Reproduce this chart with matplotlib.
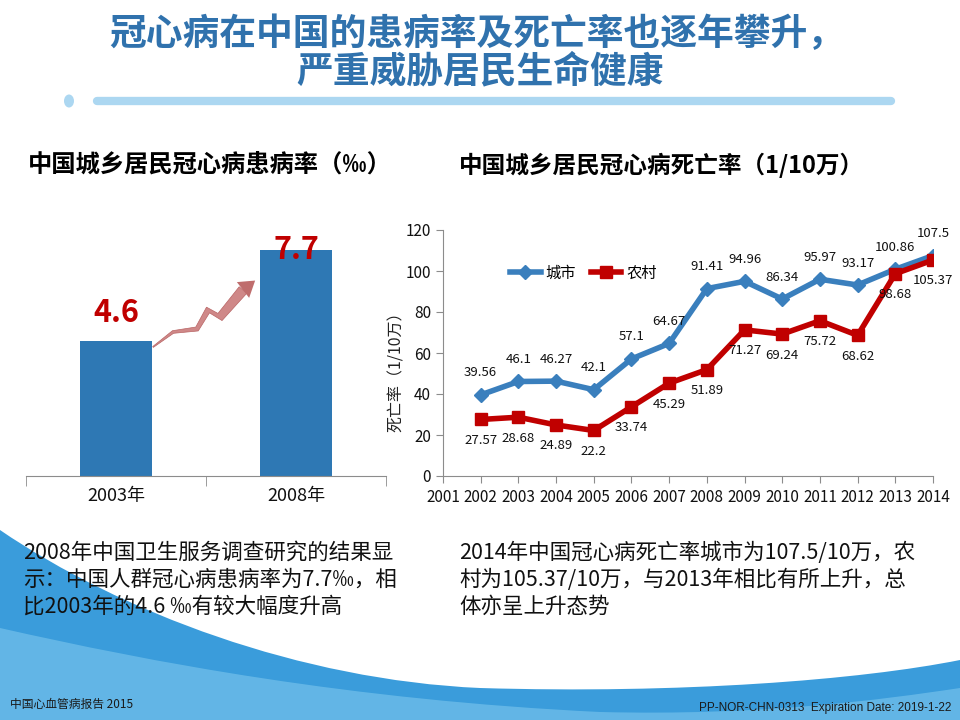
import numpy as np
import matplotlib
matplotlib.use("Agg")
import matplotlib.pyplot as plt
from matplotlib.path import Path
from matplotlib.patches import PathPatch, Polygon, Ellipse
from matplotlib.lines import Line2D
from matplotlib.transforms import Affine2D

plt.rcParams['font.family'] = ['Noto Sans CJK SC', 'DejaVu Sans']

# ---- data ----
prev_years = ['2003年', '2008年']
prev_rate = [4.6, 7.7]

years = [2002, 2003, 2004, 2005, 2006, 2007, 2008, 2009, 2010, 2011, 2012, 2013, 2014]
tick_years = [2001] + years
city = [39.56, 46.1, 46.27, 42.1, 57.1, 64.67, 91.41, 94.96, 86.34, 95.97, 93.17, 100.86, 107.5]
rural = [27.57, 28.68, 24.89, 22.2, 33.74, 45.29, 51.89, 71.27, 69.24, 75.72, 68.62, 98.68, 105.37]

W, H = 960, 720
BLUE = '#2e78b4'
RED = '#c00000'

fig = plt.figure(figsize=(9.6, 7.2), dpi=100)
# pixel coords (origin top-left) -> figure
px = Affine2D().scale(1 / W, -1 / H).translate(0, 1) + fig.transFigure


def box(l, t, r, b):
    return [l / W, 1 - b / H, (r - l) / W, (b - t) / H]


# ---- background wave ----
wave = Path([(0, 530), (120, 612), (300, 680), (480, 688),
             (680, 694), (860, 680), (960, 660),
             (960, 720), (0, 720), (0, 530)],
            [Path.MOVETO, Path.CURVE4, Path.CURVE4, Path.CURVE4,
             Path.CURVE4, Path.CURVE4, Path.CURVE4,
             Path.LINETO, Path.LINETO, Path.CLOSEPOLY])
fig.add_artist(PathPatch(wave, transform=px, facecolor='#3a9cdb', edgecolor='none', zorder=-5))
band = Path([(0, 628), (150, 662), (350, 700), (600, 712),
             (760, 716), (880, 700), (960, 688),
             (960, 720), (0, 720), (0, 628)],
            [Path.MOVETO, Path.CURVE4, Path.CURVE4, Path.CURVE4,
             Path.CURVE4, Path.CURVE4, Path.CURVE4,
             Path.LINETO, Path.LINETO, Path.CLOSEPOLY])
fig.add_artist(PathPatch(band, transform=px, facecolor='#78c4ec', edgecolor='none', alpha=0.65, zorder=-4))

# ---- main title ----
fig.text(477 / W, 1 - 35 / H, '冠心病在中国的患病率及死亡率也逐年攀升，', ha='center', va='center',
         fontsize=26.5, fontweight='bold', color='#3072ad')
fig.text(480 / W, 1 - 72 / H, '严重威胁居民生命健康', ha='center', va='center',
         fontsize=26.5, fontweight='bold', color='#3072ad')
fig.add_artist(Line2D([97, 891], [101, 101], transform=px, color='#acd7f1', lw=6,
                      solid_capstyle='round'))
fig.add_artist(Ellipse((69, 101), 10, 13, transform=px, facecolor='#acd7f1', edgecolor='none'))

# ---- left: prevalence bars ----
fig.text(210 / W, 1 - 165 / H, '中国城乡居民冠心病患病率（‰）', ha='center', va='center',
         fontsize=17.5, fontweight='bold', color='black')
ax1 = fig.add_axes(box(26, 200, 386, 476))
ax1.set_facecolor('none')
x1 = np.arange(len(prev_rate))
ax1.bar(x1, prev_rate, width=0.4, color=BLUE)
ax1.set_xlim(-0.5, 1.5)
ax1.set_ylim(0, 9.4)
for s in ['top', 'right', 'left']:
    ax1.spines[s].set_visible(False)
ax1.spines['bottom'].set_color('#8c8c8c')
ax1.set_yticks([])
ax1.set_xticks(x1)
ax1.set_xticklabels(prev_years, fontsize=13, color='#111111')
ax1.tick_params(axis='x', length=0, pad=8)
ax1.set_xticks([-0.5, 0.5, 1.5], minor=True)
ax1.tick_params(axis='x', which='minor', length=7, color='#8c8c8c', direction='out')
offs = [(0, 28), (0, 0)]
for xi, v, o in zip(x1, prev_rate, offs):
    ax1.annotate(f'{v}', (xi, v), xytext=o, textcoords='offset pixels', ha='center',
                 va='center', fontsize=22, fontweight='bold', color=RED)

# zigzag arrow between the bars
cx = np.array([153, 173, 197, 208, 220, 243])
cy = np.array([347, 332, 329, 310, 317, 290])
wd = np.linspace(0.5, 5, len(cx))
dx, dy = np.gradient(cx.astype(float)), np.gradient(cy.astype(float))
nn = np.hypot(dx, dy)
nx, ny = -dy / nn, dx / nn
upper = np.column_stack([cx + nx * wd, cy + ny * wd])
lower = np.column_stack([cx - nx * wd, cy - ny * wd])
fig.add_artist(Polygon(np.vstack([upper, lower[::-1]]), closed=True, transform=px,
                       facecolor='#cf8888', edgecolor='#b86464', lw=0.5))
ux, uy = (252 - 243) / np.hypot(9, 7), (283 - 290) / np.hypot(9, 7)
head = [(243 + (-uy) * 10, 290 + ux * 10), (252 + ux * 4, 283 + uy * 4), (243 - (-uy) * 10, 290 - ux * 10)]
fig.add_artist(Polygon(head, closed=True, transform=px, facecolor='#bf6d6d', edgecolor='none'))

# ---- right: mortality lines ----
fig.text(662 / W, 1 - 165 / H, '中国城乡居民冠心病死亡率（1/10万）', ha='center', va='center',
         fontsize=17, fontweight='bold', color='black')
ax2 = fig.add_axes(box(443, 230, 933, 476))
ax2.set_facecolor('none')
ax2.plot(years, city, color='#3a7fbd', lw=4, marker='D', ms=7, label='城市', zorder=3)
ax2.plot(years, rural, color=RED, lw=4, marker='s', ms=9, label='农村', zorder=3)
ax2.set_xlim(2001, 2014)
ax2.set_ylim(0, 120)
ax2.set_xticks(tick_years)
ax2.set_xticklabels([str(y) for y in tick_years])
ax2.set_yticks(range(0, 121, 20))
for s in ['top', 'right']:
    ax2.spines[s].set_visible(False)
for s in ['left', 'bottom']:
    ax2.spines[s].set_color('#8c8c8c')
ax2.tick_params(axis='both', labelsize=11, colors='#8c8c8c', labelcolor='#111111', length=5)
ax2.tick_params(axis='x', pad=4)
ax2.set_ylabel('死亡率（1/10万）', fontsize=11.5, color='#222222')
ax2.yaxis.set_label_coords(-0.078, 0.44)
for xv, yc, yr in zip(years, city, rural):
    ax2.annotate(f'{yc}', (xv, yc), xytext=(0, 22), textcoords='offset pixels',
                 ha='center', va='center', fontsize=9.5, color='#111111', zorder=5)
    ax2.annotate(f'{yr}', (xv, yr), xytext=(0, -21), textcoords='offset pixels',
                 ha='center', va='center', fontsize=9.5, color='#111111', zorder=5)
ax2.legend(loc='center left', bbox_to_anchor=((510 - 443) / 490, (476 - 273) / 246), ncol=2,
           frameon=False, fontsize=11, handlelength=2.0, handletextpad=0.3,
           columnspacing=1.0, borderpad=0, borderaxespad=0)

# ---- notes ----
left_note = ['2008年中国卫生服务调查研究的结果显',
             '示：中国人群冠心病患病率为7.7‰，相',
             '比2003年的4.6 ‰有较大幅度升高']
right_note = ['2014年中国冠心病死亡率城市为107.5/10万，农',
              '村为105.37/10万，与2013年相比有所上升，总',
              '体亦呈上升态势']
for i, (a, b) in enumerate(zip(left_note, right_note)):
    yy = 1 - (553 + 27 * i) / H
    fig.text(23 / W, yy, a, ha='left', va='center', fontsize=15.5, color='#111111')
    fig.text(459 / W, yy, b, ha='left', va='center', fontsize=15.5, color='#111111')

fig.text(10 / W, 1 - 704 / H, '中国心血管病报告 2015', ha='left', va='center', fontsize=8.5,
         color='#1a1a1a')
fig.text(951 / W, 1 - 708 / H, 'PP-NOR-CHN-0313  Expiration Date: 2019-1-22', ha='right',
         va='center', fontsize=8.5, color='#1a1a1a', family=['Liberation Sans', 'DejaVu Sans'])

fig.savefig('out.png', dpi=100)
